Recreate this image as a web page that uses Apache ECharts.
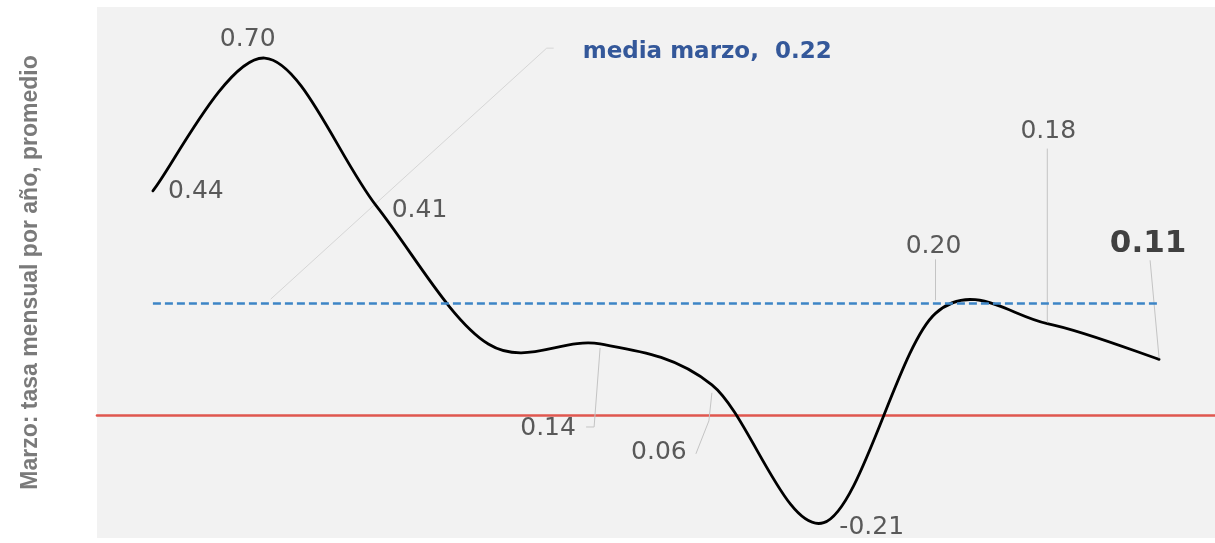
<!DOCTYPE html>
<html>
<head>
<meta charset="utf-8">
<script src="https://cdn.jsdelivr.net/npm/echarts@6/dist/echarts.min.js"></script>
<style>
  html, body { margin: 0; padding: 0; background: #ffffff; }
  #chart { width: 1215px; height: 543px; }
</style>
</head>
<body>
<div id="chart"></div>
<script>
// Tasa mensual de marzo, promedio por año
const periodos = ['1', '2', '3', '4', '5', '6', '7', '8', '9', '10'];
const marzoValores = [0.44, 0.70, 0.41, 0.14, 0.14, 0.06, -0.21, 0.20, 0.18, 0.11];
const mediaMarzo = 0.22;
const ejeTitulo = 'Marzo: tasa mensual por año, promedio';
const mediaTexto = 'media marzo,  ';

// Label placement per point: centre offset from the point, optional leader line (relative px)
const etiquetas = {
  0: { dx: 43, dy: 1 },
  1: { dx: -17, dy: -19 },
  2: { dx: 43, dy: 4 },
  4: { dx: -52, dy: 85, leader: [[-14, 83], [-6, 83], [0, 4]] },
  5: { dx: -53, dy: 68, leader: [[-16, 69], [-3, 36], [0, 8]] },
  6: { dx: 48, dy: 5 },
  7: { dx: -2, dy: -67, leader: [[0, -54], [0, -13]] },
  8: { dx: 1, dy: -192, leader: [[0, -175], [0, -1]] },
  9: { dx: -11, dy: -115, leader: [[-9, -99], [0, -1]], destacada: true }
};

const puntos = marzoValores.map((v, i) => [i, v]);

// Smooth curve through every point (Catmull-Rom converted to cubic Bezier segments)
function curvaSuave(params, api) {
  if (params.dataIndex !== 0) return null;
  const p = marzoValores.map((v, i) => api.coord([i, v]));
  let d = 'M' + p[0][0] + ',' + p[0][1];
  for (let i = 0; i < p.length - 1; i++) {
    const p0 = p[i - 1] || p[i];
    const p1 = p[i];
    const p2 = p[i + 1];
    const p3 = p[i + 2] || p[i + 1];
    const c1x = p1[0] + (p2[0] - p0[0]) / 6;
    const c1y = p1[1] + (p2[1] - p0[1]) / 6;
    const c2x = p2[0] - (p3[0] - p1[0]) / 6;
    const c2y = p2[1] - (p3[1] - p1[1]) / 6;
    d += ' C' + c1x + ',' + c1y + ' ' + c2x + ',' + c2y + ' ' + p2[0] + ',' + p2[1];
  }
  return {
    type: 'path',
    shape: { pathData: d },
    style: { fill: 'none', stroke: '#000000', lineWidth: 2.8, lineJoin: 'round', lineCap: 'round' },
    z2: 10
  };
}

// Value labels with optional leader lines
function etiquetaValor(params, api) {
  const i = params.dataIndex;
  const cfg = etiquetas[i];
  if (!cfg) return null;
  const v = api.value(1);
  const c = api.coord([api.value(0), v]);
  const children = [];
  if (cfg.leader) {
    children.push({
      type: 'polyline',
      shape: { points: cfg.leader.map(q => [c[0] + q[0], c[1] + q[1]]) },
      style: { stroke: '#c4c4c4', lineWidth: 1, fill: 'none' },
      z2: 1
    });
  }
  children.push({
    type: 'text',
    x: c[0] + cfg.dx,
    y: c[1] + cfg.dy,
    style: {
      text: v.toFixed(2),
      fill: cfg.destacada ? '#404040' : '#595959',
      fontFamily: 'DejaVu Sans',
      fontSize: cfg.destacada ? 31 : 25,
      fontWeight: cfg.destacada ? 'bold' : 'normal',
      align: 'center',
      verticalAlign: 'middle'
    },
    z2: 20
  });
  return { type: 'group', children: children };
}

// Callout for the average line
function etiquetaMedia(params, api) {
  const c = api.coord([api.value(0), api.value(1)]);
  return {
    type: 'group',
    children: [
      {
        type: 'polyline',
        shape: { points: [[c[0] + 6, c[1] - 4], [c[0] + 282, c[1] - 255], [c[0] + 289, c[1] - 255]] },
        style: { stroke: '#d6d6d6', lineWidth: 1, fill: 'none' }
      },
      {
        type: 'text',
        x: c[0] + 318,
        y: c[1] - 251,
        style: {
          text: mediaTexto + api.value(1).toFixed(2),
          fill: '#34589a',
          fontFamily: 'DejaVu Sans',
          fontSize: 23,
          fontWeight: 'bold',
          align: 'left',
          verticalAlign: 'middle'
        }
      }
    ]
  };
}

const chart = echarts.init(document.getElementById('chart'), null, { renderer: 'canvas' });
chart.setOption({
  animation: false,
  backgroundColor: '#ffffff',
  grid: {
    show: true,
    left: 97,
    right: -3,
    top: 7,
    bottom: 5,
    backgroundColor: '#f2f2f2',
    borderWidth: 0
  },
  xAxis: {
    type: 'category',
    data: periodos,
    boundaryGap: true,
    axisLine: { show: true, onZero: true, lineStyle: { color: '#e0574f', width: 2.6 } },
    axisTick: { show: false },
    axisLabel: { show: false },
    splitLine: { show: false }
  },
  yAxis: {
    type: 'value',
    min: -0.24,
    max: 0.8,
    axisLine: { show: false },
    axisTick: { show: false },
    axisLabel: { show: false },
    splitLine: { show: false },
    name: ejeTitulo,
    nameLocation: 'middle',
    nameGap: 55,
    nameRotate: 90,
    nameTextStyle: {
      color: '#7a7a7a',
      fontFamily: 'Liberation Sans',
      fontSize: 23,
      fontWeight: 'bold'
    }
  },
  series: [
    {
      name: 'marzo',
      type: 'custom',
      data: puntos,
      renderItem: curvaSuave,
      z: 3,
      markLine: {
        silent: true,
        symbol: 'none',
        label: { show: false },
        lineStyle: { color: '#3d85c6', width: 2.5, type: [8, 4] },
        data: [[
          { coord: [periodos[0], mediaMarzo] },
          { coord: [periodos[periodos.length - 1], mediaMarzo] }
        ]]
      }
    },
    {
      name: 'etiquetas',
      type: 'custom',
      data: puntos,
      renderItem: etiquetaValor,
      z: 4
    },
    {
      name: 'media',
      type: 'custom',
      data: [[1, mediaMarzo]],
      renderItem: etiquetaMedia,
      z: 2
    }
  ]
});
</script>
</body>
</html>
